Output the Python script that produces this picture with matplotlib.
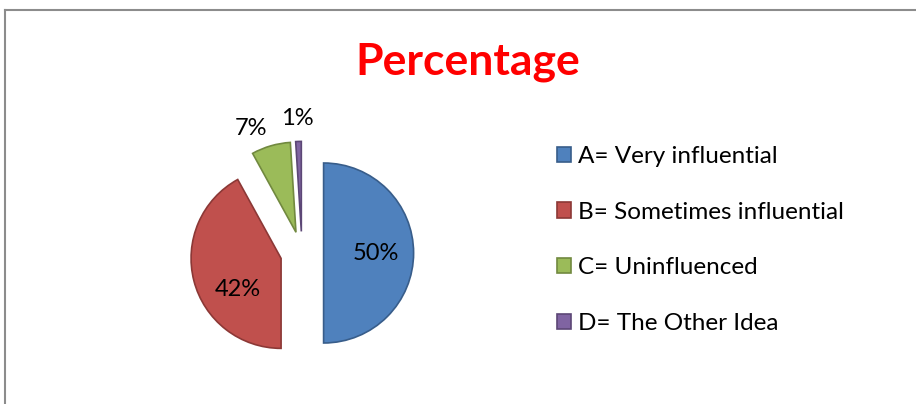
import numpy as np
import matplotlib
matplotlib.use("Agg")
import matplotlib.pyplot as plt
from matplotlib.lines import Line2D

plt.rcParams['font.family'] = ['Lato', 'DejaVu Sans']

categories = ["A= Very influential", "B= Sometimes influential",
              "C= Uninfluenced", "D= The Other Idea"]
values = [50, 42, 7, 1]
colors = ["#4F81BD", "#C0504D", "#9BBB59", "#8064A2"]
edges = ["#385D8A", "#8C3836", "#71893F", "#5C4776"]

W, H = 916, 404
fig = plt.figure(figsize=(W / 100, H / 100), dpi=100)

# frame of the chart area (runs off the right and bottom of the image)
fig.add_artist(Line2D([4.5 / W, 1], [1 - 9.5 / H, 1 - 9.5 / H],
                      color="#8c8c8c", lw=1.5))
fig.add_artist(Line2D([4.5 / W, 4.5 / W], [0, 1 - 9.5 / H],
                      color="#8c8c8c", lw=1.5))

fig.text(468 / W, 1 - 62 / H, "Percentage", color="#FF0000",
         fontsize=32, fontweight="bold", ha="center", va="center")

# pie axes: center at (302, 253) px, radius 90 px
lim = 1.6
half = lim * 90
cx, cy = 302, H - 253
ax = fig.add_axes([(cx - half) / W, (cy - half) / H, 2 * half / W, 2 * half / H])
wedges, _ = ax.pie(values, colors=colors, startangle=90, counterclock=False,
                   explode=[0.24] * 4,
                   wedgeprops=dict(linewidth=1.2))
for w, ec in zip(wedges, edges):
    w.set_edgecolor(ec)
ax.set_xlim(-lim, lim)
ax.set_ylim(-lim, lim)
ax.set_aspect("equal")
ax.axis("off")

total = sum(values)
for w, v in zip(wedges, values):
    mid = np.deg2rad((w.theta1 + w.theta2) / 2)
    pct = f"{round(100 * v / total)}%"
    if v / total > 0.2:
        # inside label
        r = 0.24 + 0.58
        ang = mid + (np.deg2rad(15) if v < 50 else 0)
        ax.text(r * np.cos(ang), r * np.sin(ang), pct,
                ha="center", va="center", fontsize=17)
    else:
        r = 1.5
        ang = mid + (np.deg2rad(6) if v > 3 else 0)
        ax.text(r * np.cos(ang), r * np.sin(ang), pct,
                ha="center", va="center", fontsize=17)

fig.legend(wedges, categories, loc="center left",
           bbox_to_anchor=(557 / W, 1 - 240 / H), frameon=False,
           fontsize=17.5, handlelength=0.58, handleheight=0.58,
           handletextpad=0.3, labelspacing=1.43, borderpad=0,
           borderaxespad=0)

fig.savefig("out.png", dpi=100)
